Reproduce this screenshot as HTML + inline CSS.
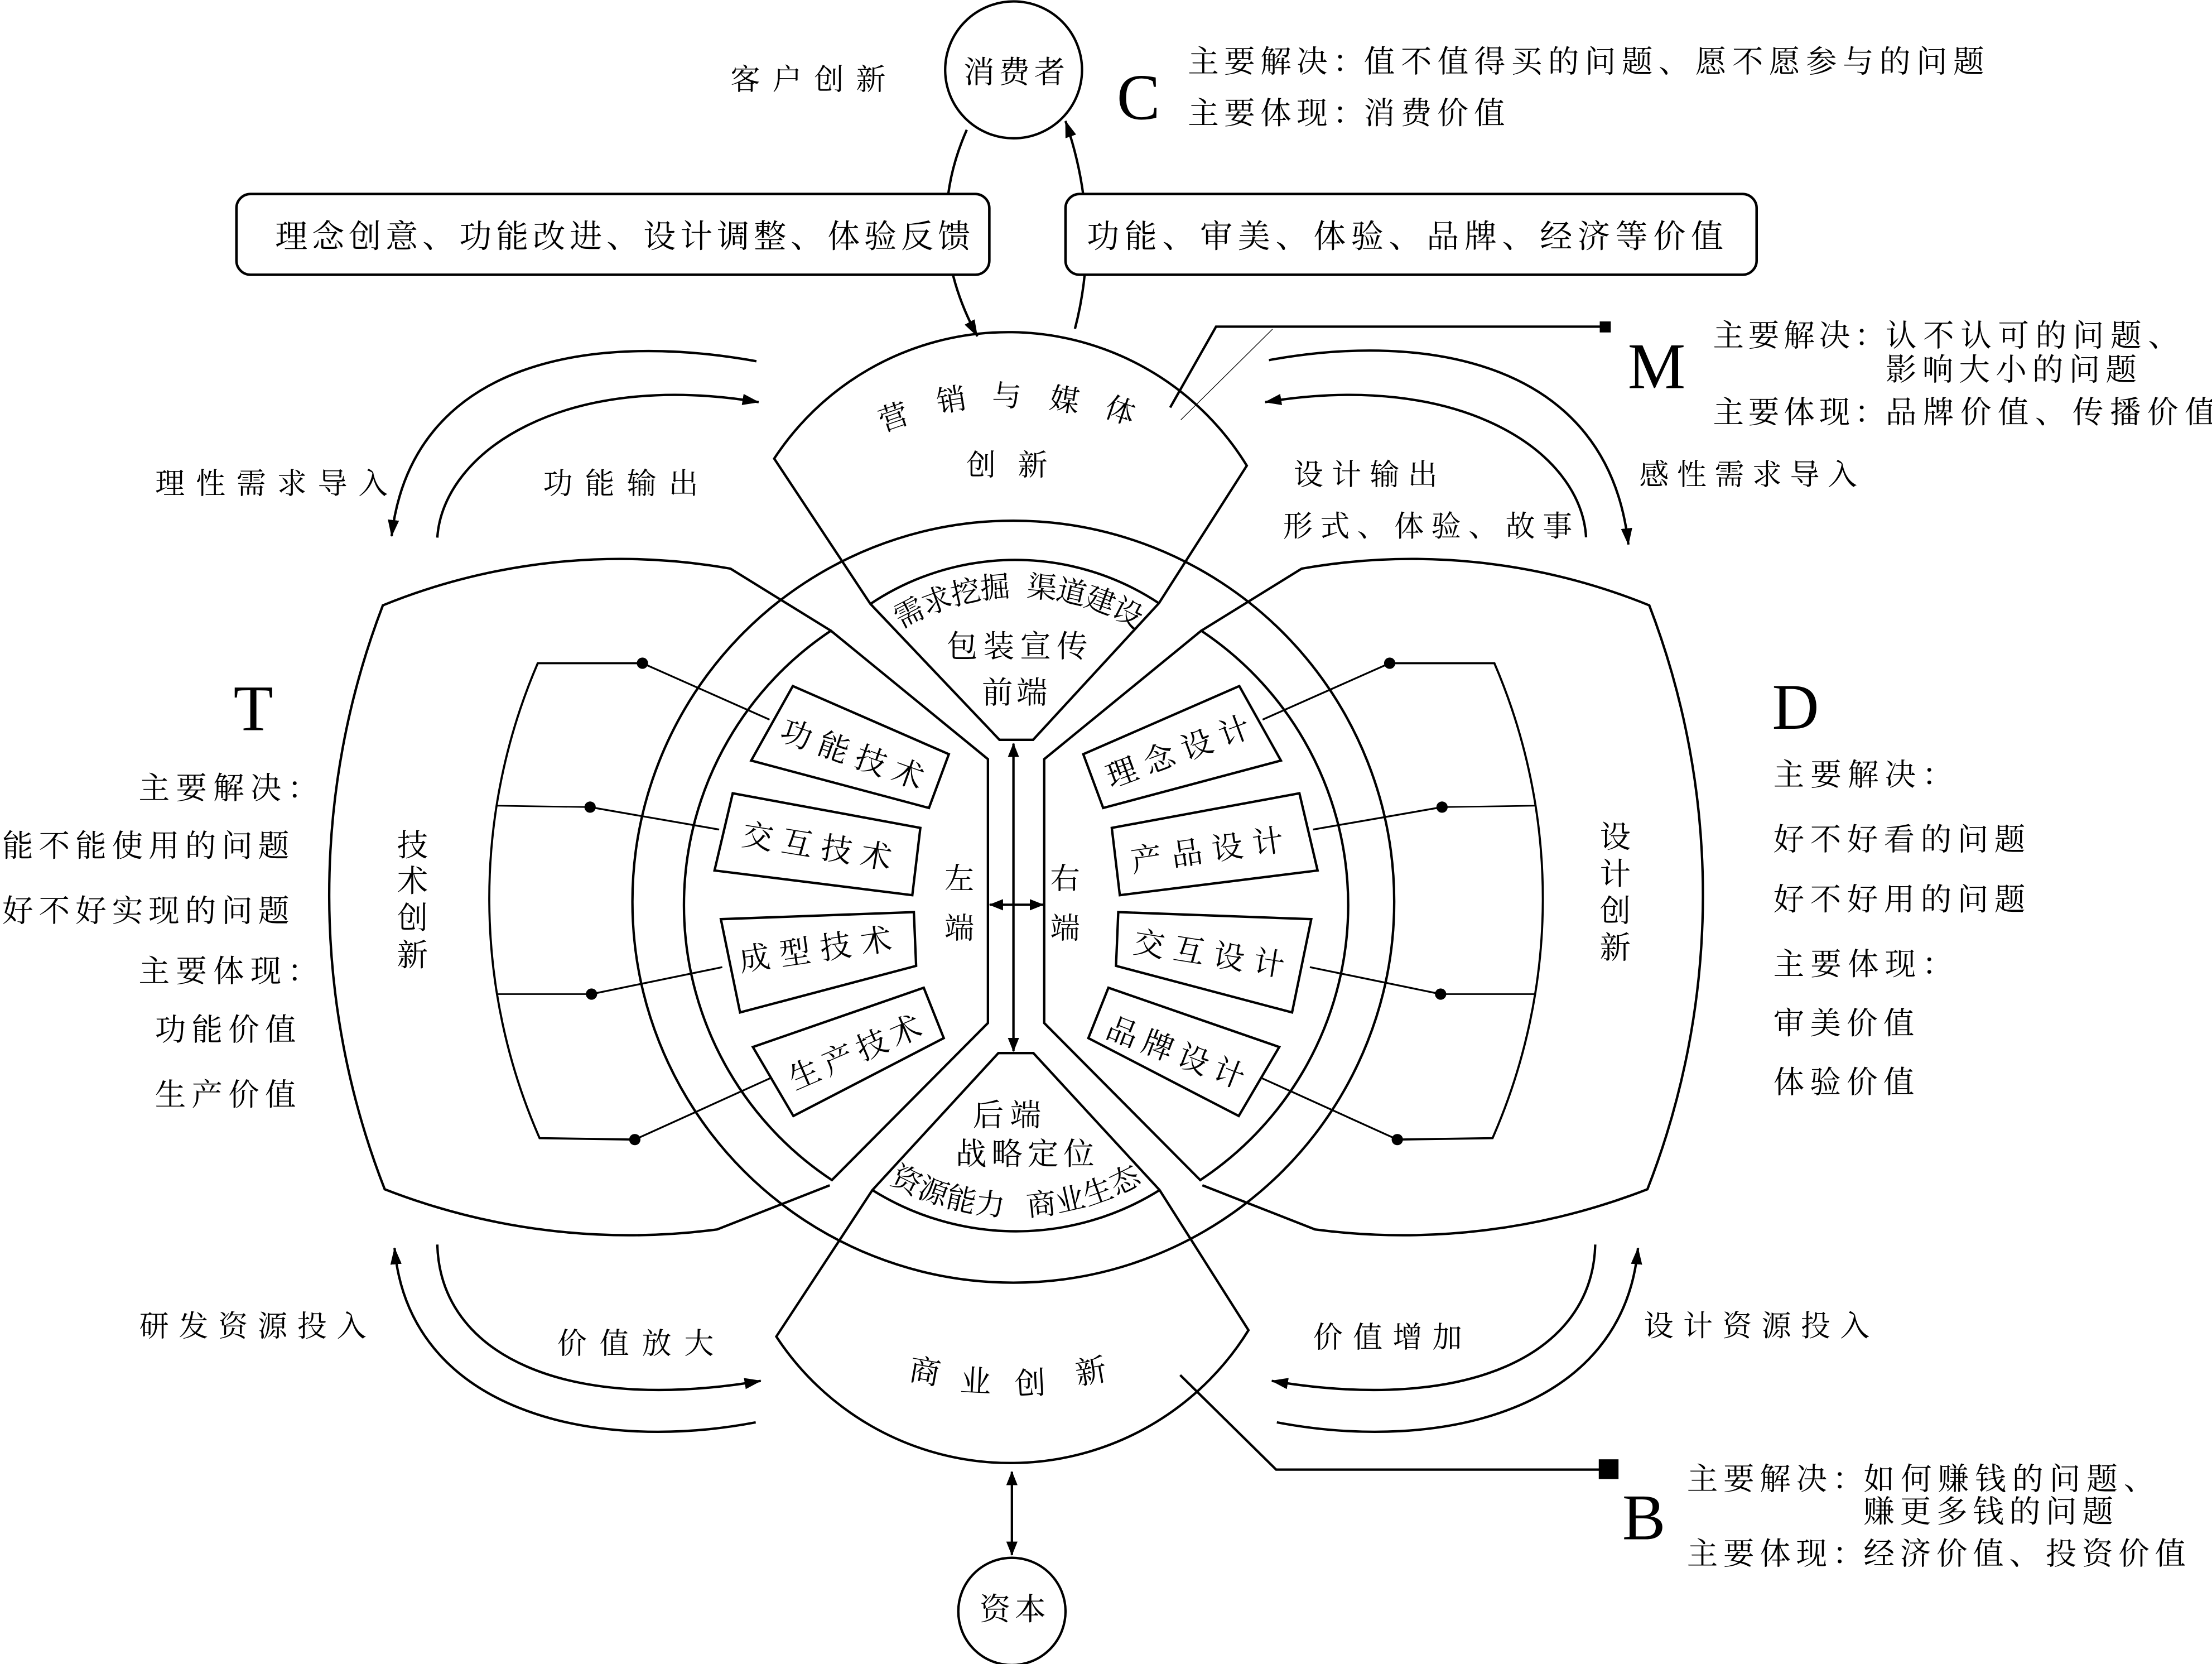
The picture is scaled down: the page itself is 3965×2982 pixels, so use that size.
<!DOCTYPE html>
<html><head><meta charset="utf-8">
<style>
html,body{margin:0;padding:0;background:#fff;}
svg{display:block;}
text{font-family:"Liberation Serif","Noto Serif CJK SC",serif;fill:#000;font-weight:400;}
.L{font-family:"Liberation Serif",serif;font-weight:400;}
</style></head>
<body>
<svg xmlns="http://www.w3.org/2000/svg" width="3965" height="2982" viewBox="0 0 1568 1179.26" preserveAspectRatio="none">
<defs>
<marker id="a1" viewBox="0 0 12 8" refX="11.5" refY="4" markerWidth="12" markerHeight="8" markerUnits="userSpaceOnUse" orient="auto-start-reverse"><path d="M0,0L12,4L0,8z" fill="#000"/></marker>
<marker id="a2" viewBox="0 0 10 8" refX="9.5" refY="4" markerWidth="10" markerHeight="8" markerUnits="userSpaceOnUse" orient="auto-start-reverse"><path d="M0,0L10,4L0,8z" fill="#000"/></marker>
</defs>
<rect x="0" y="0" width="1568" height="1179.26" fill="#fff"/>

<g fill="none" stroke="#000" stroke-width="1.7">
<circle cx="718.5" cy="49.5" r="48.5"/>
<path d="M685.3,92 Q653,165 692.8,238.3" marker-end="url(#a1)"/>
<path d="M762,233 Q781,160 755.3,85.8" marker-end="url(#a1)"/>
</g>

<g fill="#fff" stroke="#000" stroke-width="1.8">
<rect x="167.6" y="137.5" width="533.7" height="57.2" rx="10" ry="10"/>
<rect x="755.3" y="137.5" width="489.9" height="57.2" rx="10" ry="10"/>
</g>

<g fill="none" stroke="#000" stroke-width="1.7">
<circle cx="718.3" cy="639" r="270"/>
<path d="M617,428 L548.8,325 A198.4 198.4 0 0 1 883.8,330 L821.5,427.5 L732.3,524.3 L708.5,524.3 Z"/>
<path d="M617,428 A184.4 184.4 0 0 1 821.5,427.5"/>
<path d="M618.4,843.4 L550.3,947.2 A198.4 198.4 0 0 0 885,942.7 L822,843.4 L732.5,746.3 L707.7,746.3 Z"/>
<path d="M618.4,843.4 A192 192 0 0 0 822,843.4"/>

<path d="M536.2,256 C420,235 292,255 277.6,380" marker-end="url(#a1)"/>
<path d="M310,381 C314,320 400,262 537.8,285" marker-end="url(#a1)"/>
<path d="M899.5,255.2 C1010,235 1140,255 1154.3,385.9" marker-end="url(#a1)"/>
<path d="M1124.3,380.8 C1121,320 1035,262 896.8,285" marker-end="url(#a1)"/>
<path d="M310,882 C312,960 400,1002 539.3,978.6" marker-end="url(#a1)"/>
<path d="M535.7,1008 C420,1030 290,1000 279.7,884.5" marker-end="url(#a1)"/>
<path d="M1130.8,882 C1128.8,960 1040.8,1002 901.5,978.6" marker-end="url(#a1)"/>
<path d="M905.1,1008 C1020.8,1030 1150.8,1000 1161.1,884.5" marker-end="url(#a1)"/>

<path d="M718.4,527 L718.4,745" marker-start="url(#a2)" marker-end="url(#a2)"/>
<path d="M701.5,641.2 L739.5,641.2" marker-start="url(#a2)" marker-end="url(#a2)"/>
<path d="M717.3,1043 L717.3,1102" marker-start="url(#a2)" marker-end="url(#a2)"/>

<circle cx="717.3" cy="1142" r="38"/>

<polyline points="829.5,288.8 862,231.5 1136,231.5"/>
<polyline points="836.6,974.5 904.6,1041.5 1136,1041.5"/>
</g>
<line x1="902" y1="233.3" x2="837" y2="297.6" stroke="#000" stroke-width="0.5"/>
<rect x="1134" y="227.8" width="7.8" height="7.8" fill="#000"/>
<rect x="1133.3" y="1034.2" width="14" height="14" fill="#000"/>

<g fill="none" stroke="#000" stroke-width="1.7">
<path d="M589,447 A233.5 233.5 0 0 0 589.7,836.3 L700.3,725 L700.3,538 Z"/>
<path d="M588.2,840 L508.3,871.3 A476.8 476.8 0 0 1 272.7,842.8 A572.7 572.7 0 0 1 271.4,429 A447 447 0 0 1 517.8,403 L589,447"/>
<path d="M455.4,470 L381.2,470 A422 422 0 0 0 382.5,806.6 L450,807.6" stroke-width="1.5"/>
<path d="M352.5,571 L418.3,572 M352.5,704.5 L419.3,704.5" stroke-width="1.1"/>
<path d="M455.4,470 L545.5,510 M418.3,572 L509.8,587.9 M419.3,704.5 L512,685.4 M450,807.6 L545.8,764.2" stroke-width="1.3"/>
<polygon points="562,486.2 672.6,534.5 658.5,572.6 532.5,539"/>
<polygon points="519.4,562.2 652.4,586.7 646.7,634.4 506.5,616.9"/>
<polygon points="511,651.4 647.8,646.4 649.4,684.5 524.6,717.5"/>
<polygon points="533.7,742 654.8,700 669,735.7 562.4,790.9"/>
<g fill="#000" stroke="none">
<circle cx="455.4" cy="470" r="4"/><circle cx="418.3" cy="572" r="4"/><circle cx="419.3" cy="704.5" r="4"/><circle cx="450" cy="807.6" r="4"/>
</g>
</g>
<g transform="translate(1440.5,0) scale(-1,1)" fill="none" stroke="#000" stroke-width="1.7">
<path d="M589,447 A233.5 233.5 0 0 0 589.7,836.3 L700.3,725 L700.3,538 Z"/>
<path d="M588.2,840 L508.3,871.3 A476.8 476.8 0 0 1 272.7,842.8 A572.7 572.7 0 0 1 271.4,429 A447 447 0 0 1 517.8,403 L589,447"/>
<path d="M455.4,470 L381.2,470 A422 422 0 0 0 382.5,806.6 L450,807.6" stroke-width="1.5"/>
<path d="M352.5,571 L418.3,572 M352.5,704.5 L419.3,704.5" stroke-width="1.1"/>
<path d="M455.4,470 L545.5,510 M418.3,572 L509.8,587.9 M419.3,704.5 L512,685.4 M450,807.6 L545.8,764.2" stroke-width="1.3"/>
<polygon points="562,486.2 672.6,534.5 658.5,572.6 532.5,539"/>
<polygon points="519.4,562.2 652.4,586.7 646.7,634.4 506.5,616.9"/>
<polygon points="511,651.4 647.8,646.4 649.4,684.5 524.6,717.5"/>
<polygon points="533.7,742 654.8,700 669,735.7 562.4,790.9"/>
<g fill="#000" stroke="none">
<circle cx="455.4" cy="470" r="4"/><circle cx="418.3" cy="572" r="4"/><circle cx="419.3" cy="704.5" r="4"/><circle cx="450" cy="807.6" r="4"/>
</g>
</g>

<g dominant-baseline="central" font-size="22">
<text x="517.8" y="56.7" textLength="110" lengthAdjust="spacing" font-size="21">客户创新</text>
<text x="683" y="51.7" textLength="72" lengthAdjust="spacing" font-size="22">消费者</text>
<text x="195" y="167.7" textLength="492.8" lengthAdjust="spacing" font-size="23">理念创意、功能改进、设计调整、体验反馈</text>
<text x="770.4" y="167.7" textLength="451.2" lengthAdjust="spacing" font-size="23">功能、审美、体验、品牌、经济等价值</text>

<text x="842" y="44.1" textLength="124.8" lengthAdjust="spacing">主要解决：</text>
<text x="966.8" y="44.1" textLength="439.7" lengthAdjust="spacing">值不值得买的问题、愿不愿参与的问题</text>
<text x="842" y="80.7" textLength="124.8" lengthAdjust="spacing">主要体现：</text>
<text x="966.8" y="80.7" textLength="100" lengthAdjust="spacing">消费价值</text>

<text x="1214.2" y="238.3" textLength="122.4" lengthAdjust="spacing">主要解决：</text>
<text x="1336.6" y="238.3" textLength="208" lengthAdjust="spacing">认不认可的问题、</text>
<text x="1336.6" y="262.3" textLength="178" lengthAdjust="spacing">影响大小的问题</text>
<text x="1214.2" y="292.6" textLength="122.4" lengthAdjust="spacing">主要体现：</text>
<text x="1336.6" y="292.6" textLength="234" lengthAdjust="spacing">品牌价值、传播价值</text>

<text x="110" y="343" textLength="165" lengthAdjust="spacing" font-size="21">理性需求导入</text>
<text x="385" y="343" textLength="110" lengthAdjust="spacing" font-size="21">功能输出</text>
<text x="917" y="336.7" textLength="102" lengthAdjust="spacing" font-size="21">设计输出</text>
<text x="909.5" y="373.3" textLength="205" lengthAdjust="spacing" font-size="21">形式、体验、故事</text>
<text x="1162" y="336.7" textLength="154.5" lengthAdjust="spacing" font-size="21">感性需求导入</text>

<g text-anchor="middle" font-size="21">
<text transform="translate(633.6,296.2) rotate(-19)">营</text>
<text transform="translate(674.4,284) rotate(-9.5)">销</text>
<text transform="translate(713.7,281)">与</text>
<text transform="translate(754.6,284) rotate(9.5)">媒</text>
<text transform="translate(794,291.6) rotate(19)">体</text>
<text x="695.5" y="330">创</text>
<text x="732" y="330">新</text>
</g>

<g text-anchor="middle" font-size="21">
<text transform="translate(644.8,434.7) rotate(-27.2)">需</text>
<text transform="translate(664.2,426.2) rotate(-20)">求</text>
<text transform="translate(684.5,420.2) rotate(-12.8)">挖</text>
<text transform="translate(705.4,416.8) rotate(-5.6)">掘</text>
<text transform="translate(738.6,416.8) rotate(5.6)">渠</text>
<text transform="translate(759.5,420.2) rotate(12.8)">道</text>
<text transform="translate(779.8,426.2) rotate(20)">建</text>
<text transform="translate(799.2,434.7) rotate(27.2)">设</text>
</g>
<text x="671" y="458.5" textLength="100" lengthAdjust="spacing">包装宣传</text>
<text x="696" y="491.4" textLength="46.5" lengthAdjust="spacing">前端</text>

<g text-anchor="middle" font-size="21">
<text x="680" y="623">左</text><text x="680" y="658.2">端</text>
<text x="755" y="623">右</text><text x="755" y="658.2">端</text>
</g>

<text x="689.6" y="790.8" textLength="48.4" lengthAdjust="spacing">后端</text>
<text x="677.4" y="818.2" textLength="98.4" lengthAdjust="spacing">战略定位</text>
<g text-anchor="middle" font-size="21">
<text transform="translate(642.5,836.9) rotate(26.3)">资</text>
<text transform="translate(661.6,845) rotate(19.5)">源</text>
<text transform="translate(681.4,850.7) rotate(12.7)">能</text>
<text transform="translate(701.8,854.1) rotate(6)">力</text>
<text transform="translate(738.2,854.1) rotate(-6)">商</text>
<text transform="translate(758.6,850.7) rotate(-12.7)">业</text>
<text transform="translate(778.4,845) rotate(-19.5)">生</text>
<text transform="translate(797.5,836.9) rotate(-26.3)">态</text>
</g>

<g text-anchor="middle" font-size="22">
<text transform="translate(655.5,972.5) rotate(10)">商</text>
<text transform="translate(691.6,979.4) rotate(3)">业</text>
<text transform="translate(730.3,980.8) rotate(-3)">创</text>
<text transform="translate(773.4,972.5) rotate(-10)">新</text>
</g>
<text x="694.4" y="1141" textLength="47" lengthAdjust="spacing">资本</text>

<g transform="translate(604,535) rotate(19.6)"><text x="-53" y="0" textLength="106" lengthAdjust="spacing">功能技术</text></g>
<g transform="translate(579,600.3) rotate(9.3)"><text x="-53.5" y="0" textLength="107" lengthAdjust="spacing">交互技术</text></g>
<g transform="translate(578,673.5) rotate(-8.2)"><text x="-54.5" y="0" textLength="109" lengthAdjust="spacing">成型技术</text></g>
<g transform="translate(606.3,746.3) rotate(-23.4)"><text x="-50" y="0" textLength="100" lengthAdjust="spacing">生产技术</text></g>
<g transform="translate(835.3,533.3) rotate(-20.3)"><text x="-53.5" y="0" textLength="107" lengthAdjust="spacing">理念设计</text></g>
<g transform="translate(855.7,603.2) rotate(-8.2)"><text x="-54.5" y="0" textLength="109" lengthAdjust="spacing">产品设计</text></g>
<g transform="translate(857,676.4) rotate(9.1)"><text x="-54" y="0" textLength="108" lengthAdjust="spacing">交互设计</text></g>
<g transform="translate(833.3,746.5) rotate(21.2)"><text x="-51.5" y="0" textLength="103" lengthAdjust="spacing">品牌设计</text></g>

<g text-anchor="middle" font-size="22">
<text x="292.4" y="599.5">技</text><text x="292.4" y="624.8">术</text><text x="292.4" y="651">创</text><text x="292.4" y="677.4">新</text>
<text x="1145" y="593.5">设</text><text x="1145" y="619.8">计</text><text x="1145" y="646">创</text><text x="1145" y="672">新</text>
</g>

<text x="98.3" y="559" textLength="127.5" lengthAdjust="spacing">主要解决：</text>
<text x="1.6" y="600" textLength="203.4" lengthAdjust="spacing">能不能使用的问题</text>
<text x="1.6" y="646" textLength="203.4" lengthAdjust="spacing">好不好实现的问题</text>
<text x="98.3" y="688.7" textLength="127.5" lengthAdjust="spacing">主要体现：</text>
<text x="109.8" y="730.3" textLength="100" lengthAdjust="spacing">功能价值</text>
<text x="109.8" y="776.3" textLength="100" lengthAdjust="spacing">生产价值</text>

<text x="1257" y="549.4" textLength="127.5" lengthAdjust="spacing">主要解决：</text>
<text x="1257" y="595.3" textLength="178.6" lengthAdjust="spacing">好不好看的问题</text>
<text x="1257" y="637.9" textLength="178.6" lengthAdjust="spacing">好不好用的问题</text>
<text x="1257" y="683.8" textLength="127.5" lengthAdjust="spacing">主要体现：</text>
<text x="1257" y="725.7" textLength="100" lengthAdjust="spacing">审美价值</text>
<text x="1257" y="767.4" textLength="100" lengthAdjust="spacing">体验价值</text>

<text x="98.7" y="940.2" textLength="161" lengthAdjust="spacing" font-size="21">研发资源投入</text>
<text x="395" y="952.5" textLength="111" lengthAdjust="spacing" font-size="21">价值放大</text>
<text x="930.8" y="948.2" textLength="105.6" lengthAdjust="spacing" font-size="21">价值增加</text>
<text x="1165.3" y="940" textLength="160" lengthAdjust="spacing" font-size="21">设计资源投入</text>

<text x="1195.8" y="1048.6" textLength="125.2" lengthAdjust="spacing">主要解决：</text>
<text x="1321" y="1048.6" textLength="206.4" lengthAdjust="spacing">如何赚钱的问题、</text>
<text x="1321" y="1071.6" textLength="177" lengthAdjust="spacing">赚更多钱的问题</text>
<text x="1195.8" y="1101.6" textLength="125.2" lengthAdjust="spacing">主要体现：</text>
<text x="1321" y="1101.6" textLength="228.4" lengthAdjust="spacing">经济价值、投资价值</text>
</g>

<g class="L" font-size="46" text-anchor="middle">
<text class="L" x="807" y="84.5">C</text>
<text class="L" x="1174.3" y="275">M</text>
<text class="L" x="179.6" y="517.5">T</text>
<text class="L" x="1272.8" y="516.5">D</text>
<text class="L" x="1165.3" y="1090.8">B</text>
</g>
</svg>
</body></html>
